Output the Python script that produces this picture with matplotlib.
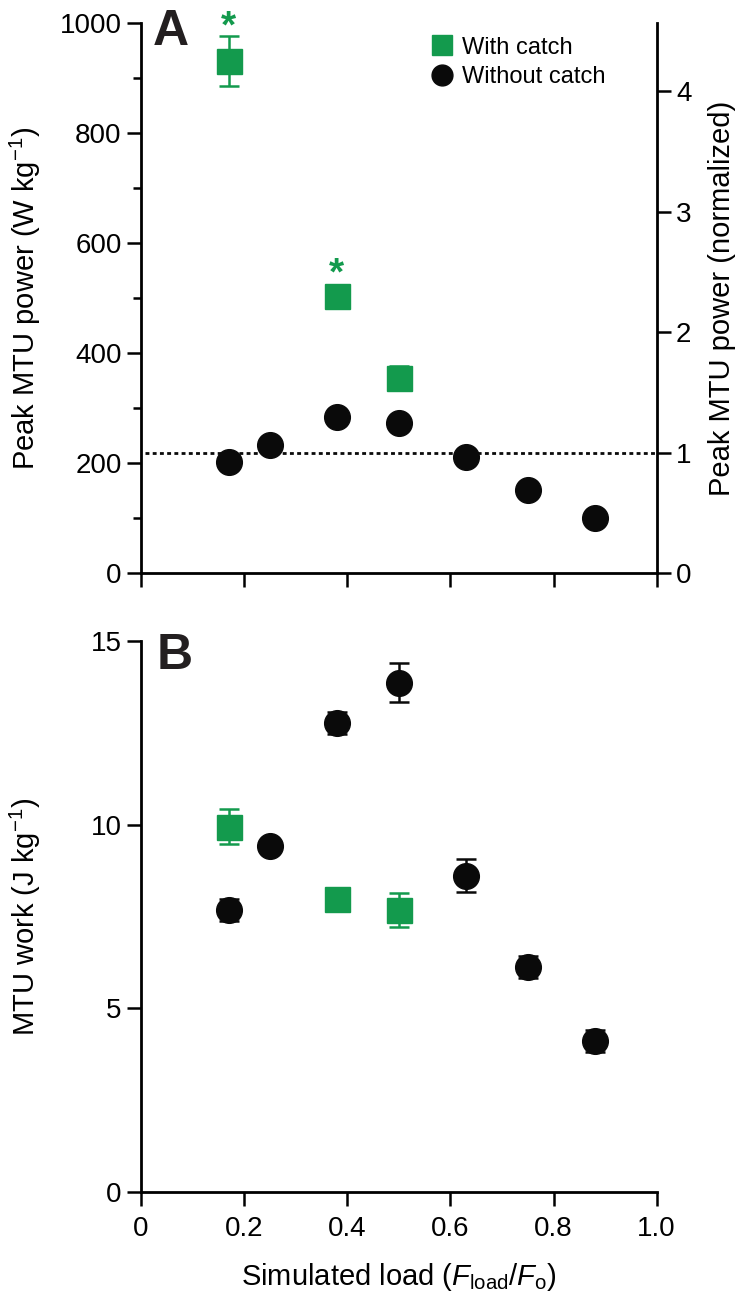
import matplotlib
matplotlib.use("agg")
import matplotlib.pyplot as plt
from matplotlib.lines import Line2D

plt.rcParams['font.family'] = ['Liberation Sans', 'DejaVu Sans']
plt.rcParams['mathtext.fontset'] = 'custom'
plt.rcParams['mathtext.rm'] = 'Liberation Sans'
plt.rcParams['mathtext.it'] = 'Liberation Sans:italic'
plt.rcParams['mathtext.bf'] = 'Liberation Sans:bold'

GREEN = "#139a4d"
BLACK = "#0a0a0a"

# Data
load_nocatch = [0.17, 0.25, 0.38, 0.50, 0.63, 0.75, 0.88]
power_nocatch = [201, 232, 284, 272, 210, 151, 99]
load_catch = [0.17, 0.38, 0.50]
power_catch = [931, 504, 355]
power_catch_err = [45, 0, 22]
power_baseline = 219  # normalization value (dotted line = 1)
signif_loads = [0.17, 0.38]
signif_power = [992, 542]

work_nocatch = [7.68, 9.43, 12.76, 13.87, 8.61, 6.14, 4.12]
work_nocatch_err = [0.3, 0.1, 0.3, 0.52, 0.45, 0.3, 0.3]
work_catch = [9.95, 7.99, 7.68]
work_catch_err = [0.48, 0.0, 0.46]

x_ticks = [0, 0.2, 0.4, 0.6, 0.8, 1.0]
x_ticklabels = ["0", "0.2", "0.4", "0.6", "0.8", "1.0"]

fig = plt.figure(figsize=(7.48, 13.06), dpi=100)
axA = fig.add_axes([0.1885, 0.5613, 0.6894, 0.4211])
axB = fig.add_axes([0.1885, 0.0871, 0.6894, 0.4221])

ms_circ = 18.5
ms_sq = 18
err_kw = dict(elinewidth=1.8, capsize=7, capthick=1.8, ls="none")


def style_axis(ax):
    [ax.spines[s].set_visible(False) for s in ['top', 'right']]
    [ax.spines[s].set_linewidth(2) for s in ['left', 'bottom']]
    ax.tick_params(which='major', direction='out', length=10, width=1.8, labelsize=20, pad=4)
    ax.tick_params(which='minor', direction='out', length=5.5, width=1.8)
    ax.set_xlim(0, 1.0)
    ax.set_xticks(x_ticks)


# ---- Panel A ----
style_axis(axA)
axA.set_ylim(0, 1000)
axA.set_yticks(range(0, 1001, 200))
axA.set_yticks(range(100, 1000, 200), minor=True)
axA.set_xticklabels([])
axA.axhline(power_baseline, xmin=0.008, xmax=1, color=BLACK, lw=2, ls=(0, (1.4, 1.2)), zorder=1)

axA.errorbar(load_catch, power_catch, yerr=power_catch_err, fmt='s', color=GREEN, ms=ms_sq,
             mec=GREEN, ecolor=GREEN, zorder=3, clip_on=False, **err_kw)
axA.plot(load_nocatch, power_nocatch, 'o', color=BLACK, ms=ms_circ, zorder=3)
for x, y in zip(signif_loads, signif_power):
    axA.text(x, y, "*", color=GREEN, fontsize=28, fontweight='bold', ha='center', va='center', clip_on=False)

axA.set_ylabel(r"Peak MTU power (W kg$^{-1}$)", fontsize=21)
axA.yaxis.set_label_coords(-0.19, 0.5)

axR = axA.twinx()
axR.set_position(axA.get_position())
axR.set_ylim(0, 1000 / power_baseline)
axR.set_yticks([0, 1, 2, 3, 4])
[axR.spines[s].set_visible(False) for s in ['top', 'left', 'bottom']]
axR.spines['right'].set_linewidth(2)
axR.tick_params(direction='out', length=10, width=1.8, labelsize=20, pad=4)
axR.set_ylabel("Peak MTU power (normalized)", fontsize=21)
axR.yaxis.set_label_coords(1.10, 0.5)

handles = [Line2D([], [], marker='s', ls='none', color=GREEN, ms=14.5),
           Line2D([], [], marker='o', ls='none', color=BLACK, ms=15)]
axA.legend(handles, ["With catch", "Without catch"], loc='upper left', bbox_to_anchor=(0.56, 0.975),
           frameon=False, fontsize=17, handlelength=1.0, handletextpad=0.35, labelspacing=0.32,
           borderpad=0, borderaxespad=0)

axA.text(0.023, 1.025, "A", transform=axA.transAxes, fontsize=36, fontweight='bold',
         color="#231f20", ha='left', va='top')

# ---- Panel B ----
style_axis(axB)
axB.set_ylim(0, 15)
axB.set_yticks([0, 5, 10, 15])
axB.set_xticklabels(x_ticklabels)
axB.tick_params(axis='x', pad=7)
axB.errorbar(load_nocatch, work_nocatch, yerr=work_nocatch_err, fmt='o', color=BLACK, ms=ms_circ,
             ecolor=BLACK, zorder=3, **err_kw)
axB.errorbar(load_catch, work_catch, yerr=work_catch_err, fmt='s', color=GREEN, ms=ms_sq,
             ecolor=GREEN, zorder=3, **err_kw)
axB.set_ylabel(r"MTU work (J kg$^{-1}$)", fontsize=21)
axB.yaxis.set_label_coords(-0.19, 0.5)
axB.set_xlabel(r"Simulated load ($\mathit{F}_{\mathrm{load}}$/$\mathit{F}_{\mathrm{o}}$)", fontsize=21, labelpad=14)

axB.text(0.03, 1.015, "B", transform=axB.transAxes, fontsize=36, fontweight='bold',
         color="#231f20", ha='left', va='top')

fig.savefig("out.png", dpi=100)
